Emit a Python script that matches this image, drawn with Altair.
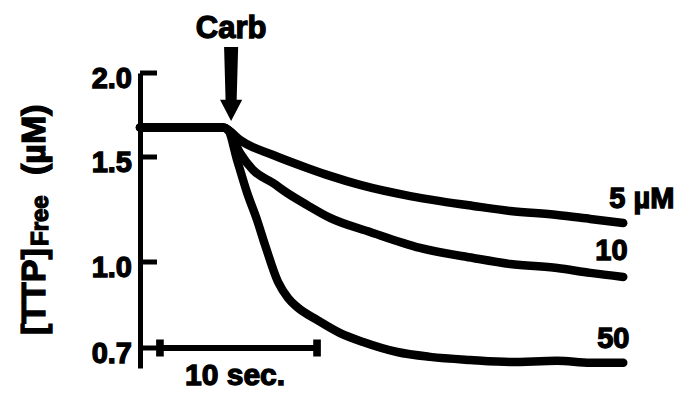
import altair as alt
import pandas as pd

FONT = "Liberation Sans"

# time in seconds after start of trace, [TTP]free in uM
plateau_t = [0.0, 5.29]
plateau_v = [1.675, 1.675]

t5 = [5.61, 6.37, 8.47, 10.64, 12.10, 14.01, 17.20, 19.11, 21.21, 23.57, 26.56, 28.66, 30.76]
v5 = [1.661, 1.601, 1.512, 1.448, 1.410, 1.367, 1.314, 1.290, 1.267, 1.243, 1.224, 1.205, 1.186]

t10 = [5.61, 6.37, 7.20, 8.47, 9.36, 10.64, 12.10, 14.65, 17.83, 21.21, 23.57, 26.56, 28.66, 30.76]
v10 = [1.661, 1.524, 1.438, 1.376, 1.329, 1.271, 1.210, 1.143, 1.067, 1.019, 0.993, 0.979, 0.962, 0.948]

t50 = [5.61, 6.18, 6.82, 7.45, 7.96, 8.79, 9.43, 10.0, 11.27, 12.74, 14.2, 16.37, 18.47, 21.02, 23.57, 26.56, 28.66, 30.76]
v50 = [1.661, 1.486, 1.329, 1.200, 1.081, 0.930, 0.874, 0.843, 0.798, 0.752, 0.721, 0.686, 0.669, 0.658, 0.651, 0.655, 0.648, 0.648]

series_names = ["5", "10", "50"]
series_t = [t5, t10, t50]
series_v = [v5, v10, v50]

y_ticks = [0.7, 1.0, 1.5, 2.0]
y_tick_labels = ["0.7", "1.0", "1.5", "2.0"]

# annotations
carb_t = 5.8
carb_arrow_v = 1.935
carb_text_v = 2.208
bar_start, bar_end, bar_v = 1.27, 11.27, 0.7
bar_label_t, bar_label_v = 6.05, 0.571
end_labels = ["5 µM", "10", "50"]
end_label_t = [29.87, 28.98, 29.1]
end_label_v = [1.257, 1.01, 0.7]

rows = []
for name, ts, vs in zip(series_names, series_t, series_v):
    for t, v in zip(plateau_t + ts, plateau_v + vs):
        rows.append({"series": name, "t": t, "v": v})
curves = pd.DataFrame(rows)

xs = alt.Scale(domain=[0, 31], range=[0, 487], nice=False, zero=False)
ys = alt.Scale(domain=[0.63, 0.7, 1.0, 1.5, 2.0], range=[308, 288, 202, 97, 13],
               nice=False, zero=False)

X = alt.X("t:Q", scale=xs, axis=None)
Y = alt.Y("v:Q", scale=ys, axis=alt.Axis(
    values=y_ticks, ticks=False, grid=False, labels=False, title="",
    domainWidth=5, domainColor="black"))

lines = alt.Chart(curves).mark_line(
    color="black", strokeWidth=8.5, strokeCap="round", strokeJoin="round",
    interpolate="monotone").encode(x=X, y=Y, detail="series:N")

tick_df = pd.DataFrame({"v": y_ticks, "s": y_tick_labels})
ticks = alt.Chart(tick_df).mark_rule(color="black", strokeWidth=5).encode(
    y=alt.Y("v:Q", scale=ys), x=alt.value(0), x2=alt.value(17))

tick_labels = alt.Chart(tick_df).mark_text(
    font=FONT, fontSize=29, fontWeight="bold", color="black", stroke="black",
    strokeWidth=1.3, align="right", baseline="alphabetic", dy=15).encode(
    y=alt.Y("v:Q", scale=ys), x=alt.value(-8), text="s:N")

txt = dict(font=FONT, fontWeight="bold", color="black", stroke="black",
           strokeWidth=1.3, baseline="alphabetic")

arrow = alt.Chart(pd.DataFrame({"t": [carb_t], "v": [carb_arrow_v]})).mark_point(
    shape="M-0.19,-1L0.19,-1L0.15,0.43L0.3,0.43L0,1L-0.3,0.43L-0.15,0.43Z",
    size=5476, filled=True, color="black", opacity=1, strokeWidth=0
).encode(x=alt.X("t:Q", scale=xs), y=alt.Y("v:Q", scale=ys))

carb = alt.Chart(pd.DataFrame({"t": [carb_t], "v": [carb_text_v], "s": ["Carb"]})).mark_text(
    fontSize=31, align="center", **txt).encode(
    x=alt.X("t:Q", scale=xs), y=alt.Y("v:Q", scale=ys), text="s:N")

bar = alt.Chart(pd.DataFrame({"t": [bar_start], "t2": [bar_end], "v": [bar_v]})).mark_rule(
    color="black", strokeWidth=6).encode(
    x=alt.X("t:Q", scale=xs), x2="t2:Q", y=alt.Y("v:Q", scale=ys))

bar_ends = alt.Chart(pd.DataFrame({"t": [bar_start, bar_end], "v": [bar_v, bar_v]})).mark_point(
    shape="M-0.45,-1L0.45,-1L0.45,1L-0.45,1Z", size=289, filled=True, color="black",
    opacity=1, strokeWidth=0).encode(x=alt.X("t:Q", scale=xs), y=alt.Y("v:Q", scale=ys))

bar_label = alt.Chart(pd.DataFrame({"t": [bar_label_t], "v": [bar_label_v], "s": ["10 sec."]})).mark_text(
    fontSize=30, align="center", **txt).encode(
    x=alt.X("t:Q", scale=xs), y=alt.Y("v:Q", scale=ys), text="s:N")

ends = alt.Chart(pd.DataFrame({"t": end_label_t, "v": end_label_v, "s": end_labels})).mark_text(
    fontSize=29, align="left", **txt).encode(
    x=alt.X("t:Q", scale=xs), y=alt.Y("v:Q", scale=ys), text="s:N")

def title_piece(s, x, y, size):
    return alt.Chart(pd.DataFrame({"s": [s]})).mark_text(
        fontSize=size, angle=270, align="left", **txt).encode(
        x=alt.value(x), y=alt.value(y), text="s:N")

t1 = title_piece("[TTP]", -95, 275, 34)
t2 = title_piece("Free", -92, 186, 24)
t3 = title_piece("(µM)", -95, 115, 34)

chart = alt.layer(lines, ticks, tick_labels, arrow, carb, bar, bar_ends, bar_label,
                  ends, t1, t2, t3).properties(
    width=487, height=300,
    padding={"left": 140, "top": 60, "right": 62, "bottom": 40},
    autosize=alt.AutoSizeParams(type="none"),
    background="white",
).configure_view(strokeWidth=0)

chart.save("out.html", embed_options={"renderer": "svg", "actions": False})
